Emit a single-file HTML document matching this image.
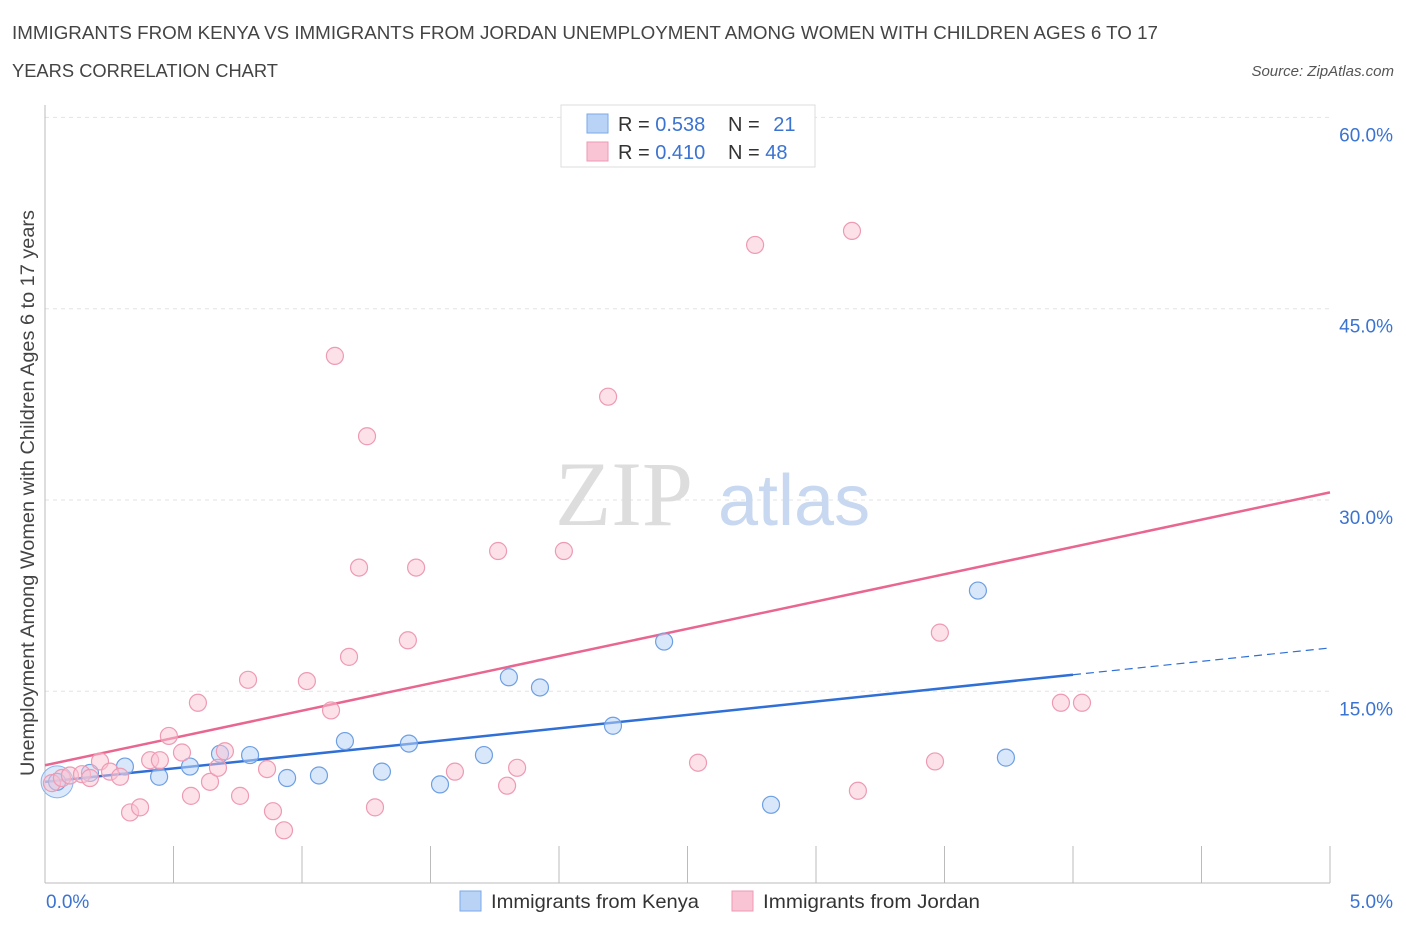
<!DOCTYPE html>
<html><head><meta charset="utf-8"><style>
body{margin:0;background:#fff;font-family:"Liberation Sans",sans-serif;}
svg text{font-family:"Liberation Sans",sans-serif;}
</style></head><body>
<svg id="chart" width="1406" height="930" viewBox="0 0 1406 930" xmlns="http://www.w3.org/2000/svg">
<text x="12" y="39" font-size="18" fill="#444" textLength="1146" lengthAdjust="spacingAndGlyphs">IMMIGRANTS FROM KENYA VS IMMIGRANTS FROM JORDAN UNEMPLOYMENT AMONG WOMEN WITH CHILDREN AGES 6 TO 17</text>
<text x="12" y="77" font-size="18" fill="#444" textLength="266" lengthAdjust="spacingAndGlyphs">YEARS CORRELATION CHART</text>
<text x="1394" y="76" font-size="15" fill="#555" font-style="italic" text-anchor="end">Source: ZipAtlas.com</text>
<text transform="translate(34,776) rotate(-90)" font-size="19" fill="#444" textLength="566" lengthAdjust="spacingAndGlyphs">Unemployment Among Women with Children Ages 6 to 17 years</text>
<g id="grid"></g>
<text x="555" y="525" font-size="92" fill="#ddd" style="font-family:'Liberation Serif',serif">ZIP</text>
<text x="718" y="525" font-size="72" fill="#c8d8f0">atlas</text>
<g id="lines"></g>
<g id="points"></g>
<g>
<rect x="561" y="105" width="254" height="62" fill="#fff" stroke="#ddd"/>
<rect x="587" y="114" width="21" height="19" fill="#b9d3f7" stroke="#7aa8e8"/>
<rect x="587" y="142" width="21" height="19" fill="#f9c4d4" stroke="#ef9ab4"/>
<text x="618" y="131" font-size="20" fill="#333">R = <tspan fill="#3b73d1">0.538</tspan></text>
<text x="728" y="131" font-size="20" fill="#333">N = <tspan fill="#3b73d1" dx="8">21</tspan></text>
<text x="618" y="159" font-size="20" fill="#333">R = <tspan fill="#3b73d1">0.410</tspan></text>
<text x="728" y="159" font-size="20" fill="#333">N = <tspan fill="#3b73d1">48</tspan></text>
</g>
<g>
<rect x="460" y="891" width="21" height="20" fill="#b9d3f7" stroke="#7aa8e8"/>
<text x="491" y="908" font-size="19.5" fill="#333" textLength="208" lengthAdjust="spacingAndGlyphs">Immigrants from Kenya</text>
<rect x="732" y="891" width="21" height="20" fill="#f9c4d4" stroke="#ef9ab4"/>
<text x="763" y="908" font-size="19.5" fill="#333" textLength="217" lengthAdjust="spacingAndGlyphs">Immigrants from Jordan</text>
</g>
</svg>
<script>
const xTicks=[0,5];
const yTicks=[15,30,45,60];
const kenyaX=[0.047,0.175,0.311,0.444,0.564,0.681,0.798,0.942,1.066,1.167,1.311,1.416,1.537,1.708,1.805,1.926,2.210,2.409,2.825,3.630,3.739];
const kenyaY=[7.9,8.6,9.1,8.3,9.1,10.1,10.0,8.2,8.4,11.1,8.7,10.9,7.7,10.0,16.1,15.3,12.3,18.9,6.1,22.9,9.8];
const jordanX=[0.027,0.066,0.097,0.144,0.175,0.214,0.253,0.292,0.331,0.370,0.409,0.447,0.482,0.533,0.568,0.595,0.642,0.673,0.700,0.759,0.790,0.864,0.887,0.930,1.019,1.113,1.128,1.183,1.222,1.253,1.284,1.412,1.444,1.595,1.763,1.798,1.837,2.019,2.191,2.541,2.763,3.140,3.163,3.463,3.482,3.953,4.035];
const jordanY=[7.8,8.2,8.4,8.5,8.2,9.5,8.7,8.3,5.5,5.9,9.6,9.6,11.5,10.2,6.8,14.1,7.9,9.0,10.3,6.8,15.9,8.9,5.6,4.1,15.8,13.5,41.3,17.7,24.7,35.0,5.9,19.0,24.7,8.7,26.0,7.6,9.0,26.0,38.1,9.4,50.0,51.1,7.2,9.5,19.6,14.1,14.1];
const kenyaTrend=[7.9,2.1];
const jordanTrend=[9.2,4.28];
const kenyaSolidEnd=4.0;

const NS='http://www.w3.org/2000/svg';
const X=v=>45+v/5*1285;
const Y=v=>882.6-v/15*191.3;
function mk(tag,attrs,parent){const e=document.createElementNS(NS,tag);for(const k in attrs)e.setAttribute(k,attrs[k]);parent.appendChild(e);return e;}
const grid=document.getElementById('grid');
yTicks.forEach(t=>{
  const l=mk('line',{x1:45,x2:1330,y1:Y(t),y2:Y(t),stroke:'#e3e3e3','stroke-dasharray':'4,4'},grid);
  
  
  const tx=mk('text',{x:1393,y:Y(t)+24,'font-size':19,fill:'#3b73d1','text-anchor':'end'},grid);
  tx.textContent=t.toFixed(1)+'%';
  
  
});
const ax=mk('line',{x1:45,x2:1330,y1:883,y2:883,stroke:'#bbb'},grid);


const ay=mk('line',{x1:45,x2:45,y1:105,y2:883,stroke:'#bbb'},grid);


for(let i=1;i<=10;i++){
  const tk=mk('line',{x1:X(i*0.5),x2:X(i*0.5),y1:846,y2:883,stroke:'#bbb'},grid);
  
  
}
xTicks.forEach(t=>{
  const tx=mk('text',{x:t===0?X(t)+1:1393,y:908,'font-size':19,fill:'#3b73d1','text-anchor':t===0?'start':'end'},grid);
  tx.textContent=t.toFixed(1)+'%';
  
  
});
const pts=document.getElementById('points');
const big=mk('circle',{cx:X(kenyaX[0]),cy:Y(kenyaY[0]),r:16,fill:'rgba(185,211,247,0.5)',stroke:'#8ab2ea'},pts);


kenyaX.forEach((x,i)=>{
  const c=mk('circle',{cx:X(x),cy:Y(kenyaY[i]),r:8.5,fill:'rgba(185,211,247,0.55)',stroke:'#6d9fe3','stroke-width':1.2},pts);
  
  
});
jordanX.forEach((x,i)=>{
  const c=mk('circle',{cx:X(x),cy:Y(jordanY[i]),r:8.5,fill:'rgba(249,196,212,0.5)',stroke:'#ee9ab3','stroke-width':1.2},pts);
  
  
});
const lines=document.getElementById('lines');
const f=(t,x)=>t[0]+t[1]*x;
const kl=mk('line',{x1:X(0),y1:Y(f(kenyaTrend,0)),x2:X(kenyaSolidEnd),y2:Y(f(kenyaTrend,kenyaSolidEnd)),stroke:'#2f6fd6','stroke-width':2.5},lines);


const kd=mk('line',{x1:X(kenyaSolidEnd),y1:Y(f(kenyaTrend,kenyaSolidEnd)),x2:X(5),y2:Y(f(kenyaTrend,5)),stroke:'#2f6fd6','stroke-width':1.2,'stroke-dasharray':'8,5'},lines);


const jl=mk('line',{x1:X(0),y1:Y(f(jordanTrend,0)),x2:X(5),y2:Y(f(jordanTrend,5)),stroke:'#e8668f','stroke-width':2.5},lines);


</script>
</body></html>
